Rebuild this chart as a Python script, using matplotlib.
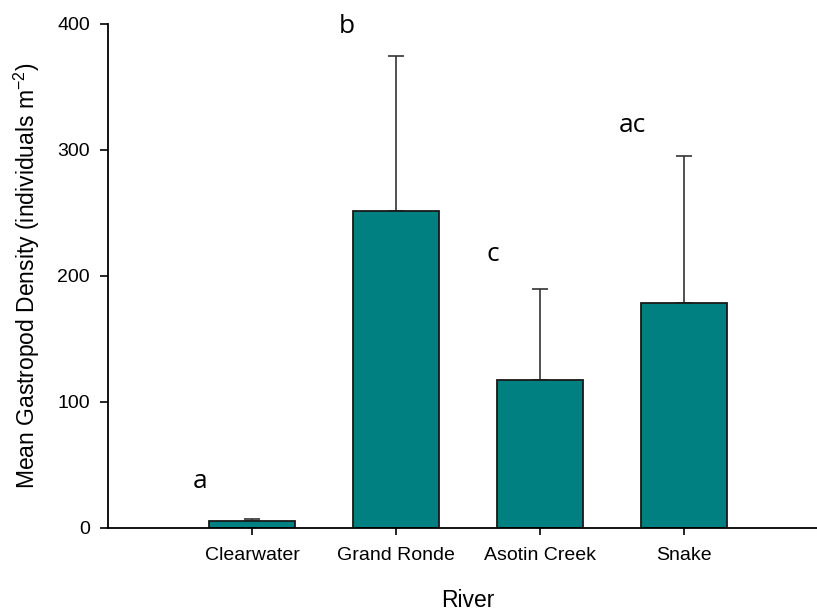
import matplotlib

matplotlib.use("Agg")
import matplotlib.pyplot as plt

rivers = ["Clearwater", "Grand Ronde", "Asotin Creek", "Snake"]
means = [5.6, 251.6, 117.2, 178.6]
se = [1.9, 122.8, 72.5, 117.0]
letters = ["a", "b", "c", "ac"]
letter_x = [0.64, 1.66, 2.67, 3.64]
letter_y = [31.5, 393, 212, 314]

W, H = 817, 616
fig = plt.figure(figsize=(W / 100, H / 100), dpi=100)
# axes runs from x=108 to 828 px (right edge cropped), y from 24 to 528 px
ax = fig.add_axes([108 / W, 1 - 528 / H, 720 / W, 504 / H])

xs = list(range(1, len(rivers) + 1))
ax.bar(xs, means, width=0.6, color="#008080", edgecolor="#1a1a1a", lw=1.3, zorder=2)
ax.errorbar(xs, means, yerr=[[0] * len(se), se], fmt="none", ecolor="#333333",
            elinewidth=1.2, capsize=5.5, capthick=1.2, zorder=1)

for x, y, t in zip(letter_x, letter_y, letters):
    ax.text(x, y, t, ha="center", va="baseline", fontsize=19, family="Open Sans")

ax.set_xlim(0, 5)
ax.set_ylim(0, 400)
ax.set_yticks([0, 100, 200, 300, 400])
ax.set_xticks(xs)
ax.set_xticklabels(rivers)
ax.spines["top"].set_visible(False)
ax.spines["right"].set_visible(False)
for s in ("left", "bottom"):
    ax.spines[s].set_linewidth(1.3)
ax.tick_params(axis="y", direction="out", length=6, width=1.2, pad=7, labelsize=14)
ax.tick_params(axis="x", direction="out", length=5, width=1.2, pad=9, labelsize=14)
for lbl in ax.get_xticklabels() + ax.get_yticklabels():
    lbl.set_family("Liberation Sans")

ax.set_ylabel("Mean Gastropod Density (individuals m$^{\\mathregular{-2}}$)", fontsize=16.5,
              family="Liberation Sans")
ax.yaxis.set_label_coords(-0.092, 0.5)
fig.text(468 / W, 1 - 607 / H, "River", ha="center", va="baseline", fontsize=16.5,
         family="Liberation Sans")

fig.savefig("out.png", dpi=100)
